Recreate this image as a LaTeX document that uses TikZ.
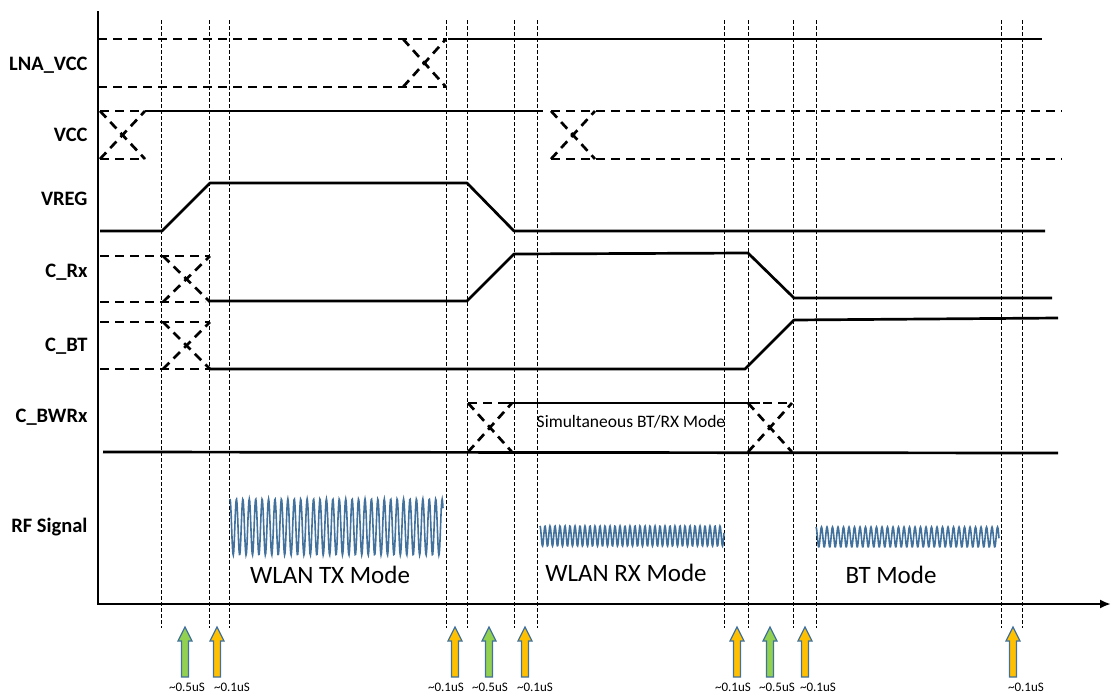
\documentclass[tikz,border=0pt]{standalone}
\usepackage{fontspec}
\setmainfont{Carlito}
\usetikzlibrary{arrows.meta}
\definecolor{wvblue}{RGB}{65,113,156}
\definecolor{tgreen}{RGB}{146,208,80}
\definecolor{tyellow}{RGB}{255,192,0}
% crossing of two dashed levels between x=#1 and x=#2
\newcommand{\swapx}[4]{\draw[sigdash] (#1,#3) -- (#2,#4); \draw[sigdash] (#1,#4) -- (#2,#3);}

\begin{document}
\begin{tikzpicture}[x=1pt,y=-1pt,>=Latex,
    sig/.style={line width=2.7pt,line join=round},
    sigdash/.style={line width=2.7pt,dash pattern=on 9pt off 6pt},
    guide/.style={line width=0.7pt,dash pattern=on 3.5pt off 2.5pt},
    wave/.style={wvblue,line width=1.6pt},
    lbl/.style={anchor=east,font=\bfseries\fontsize{20.5}{22}\selectfont},
    mode/.style={font=\fontsize{25}{27}\selectfont},
    tarrow/.style={draw=wvblue,line width=1.2pt,line join=miter},
    tlbl/.style={font=\fontsize{13}{14}\selectfont}]
    \useasboundingbox (0,0) rectangle (1112,694);
    % guide lines
    \foreach \gx in {161,209,229,446,467,514,537,724,748,793,816,1001,1022}
      \draw[guide] (\gx,20) -- (\gx,628);
    % axes
    \coordinate (top) at (98,11);
    \coordinate (o) at (98,604);
    \coordinate (tend) at (1111,604);
    \draw[line width=2.8pt,-{Latex[length=11pt,width=9pt]}] (top) -- (o) -- (tend);
    % signal names
    \node[lbl] (lna) at (91,65) {LNA\_VCC};
    \node[lbl] (vcc) at (91,135) {VCC};
    \node[lbl] (vreg) at (91,199) {VREG};
    \node[lbl] (crx) at (91,272) {C\_Rx};
    \node[lbl] (cbt) at (91,346) {C\_BT};
    \node[lbl] (cbw) at (91,417) {C\_BWRx};
    \node[lbl] (rf) at (91,527) {RF Signal};
    % LNA_VCC
    \draw[sigdash] (98,39) -- (446,39);
    \draw[sigdash] (98,87) -- (446,87);
    \swapx{403}{446}{39}{87}
    \draw[sig] (448,39) -- (1042,39);
    % VCC
    \draw[sigdash] (100,111) -- (145,111);
    \draw[sigdash] (100,159) -- (145,159);
    \swapx{100}{145}{111}{159}
    \draw[sig] (145,111) -- (543,111);
    \swapx{551}{595}{111}{159}
    \draw[sigdash] (551,111) -- (1062,111);
    \draw[sigdash] (551,159) -- (1062,159);
    % VREG
    \draw[sig] (100,231) -- (162,231) -- (210,183) -- (467,183) -- (514,231) -- (1045,231);
    % C_Rx
    \draw[sigdash] (100,256) -- (210,256);
    \draw[sigdash] (100,302) -- (205,302);
    \swapx{163}{210}{256}{302}
    \draw[sig] (210,301) -- (467,301) -- (514,254) -- (748,253) -- (794,298) -- (1052,298);
    % C_BT
    \draw[sigdash] (100,322) -- (210,322);
    \draw[sigdash] (100,369) -- (210,369);
    \swapx{163}{210}{322}{369}
    \draw[sig] (210,369) -- (745,369) -- (794,320) -- (1058,318);
    % C_BWRx
    \draw[sig] (103,452) -- (1058,453);
    \draw[sigdash] (468,403) -- (507,403);
    \draw[sig] (507,403) -- (760,403);
    \draw[sigdash] (748,403) -- (792,403);
    \swapx{468}{512}{403}{452}
    \swapx{748}{792}{403}{452}
    \node[font=\fontsize{17.5}{19}\selectfont] (simul) at (631,422) {Simultaneous BT/RX Mode};
    % RF signal
    \draw[wave] plot[domain=230:443,samples=520] (\x,{527-28*cos((\x-230)*56)});
    \draw[wave] plot[domain=540:724,samples=500] (\x,{536-10*cos((\x-540)*72)});
    \draw[wave] plot[domain=816:999,samples=500] (\x,{537-10*cos((\x-816)*65.45)});
    \node[mode] (tx) at (330,575) {WLAN TX Mode};
    \node[mode] (rx) at (626,573) {WLAN RX Mode};
    \node[mode] (bt) at (891,575) {BT Mode};
    % switching times
    \foreach \ax/\tc/\tv/\lx [count=\i] in {185/tgreen/0.5/187,217/tyellow/0.1/232,
        455/tyellow/0.1/446,489/tgreen/0.5/490,525/tyellow/0.1/535,
        737/tyellow/0.1/733,770/tgreen/0.5/777,805/tyellow/0.1/818,1013/tyellow/0.1/1026}{
      \draw[tarrow,fill=\tc] (\ax-3.5,677) -- (\ax-3.5,641) -- (\ax-7,641) -- (\ax,627)
        -- (\ax+7,641) -- (\ax+3.5,641) -- (\ax+3.5,677) -- cycle;
      \node[tlbl] (t\i) at (\lx,687) {\textasciitilde\tv uS};
    }
  \end{tikzpicture}
\end{document}
